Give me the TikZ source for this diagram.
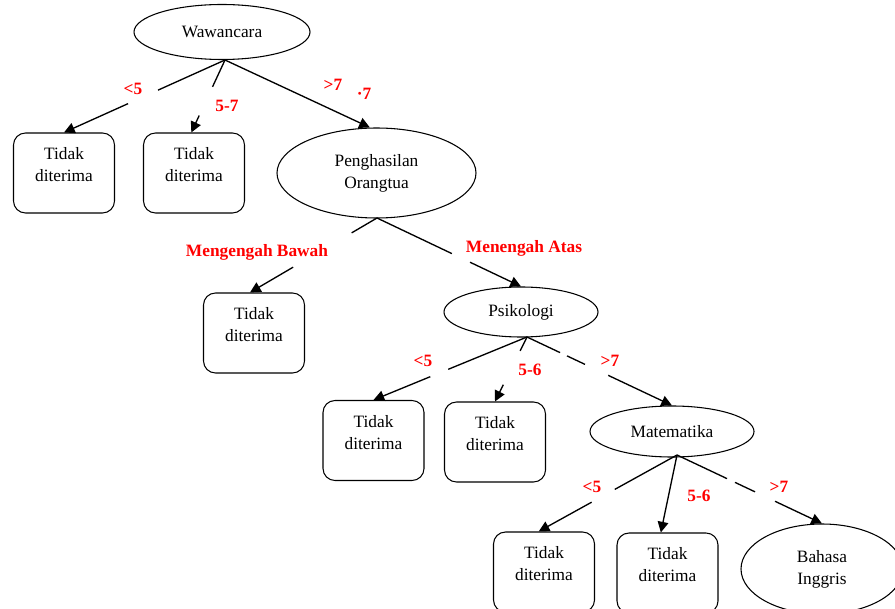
\documentclass[tikz,border=0pt]{standalone}
\usepackage{fontspec}
\setmainfont{Liberation Serif}
\usetikzlibrary{shapes.geometric,arrows.meta,calc}
\begin{document}
\begin{tikzpicture}[x=0.75pt,y=-0.75pt,
  every node/.style={font=\fontsize{13}{16.5}\selectfont},
  ell/.style={draw,ellipse,line width=0.8pt,inner sep=0pt,align=center},
  tbox/.style={draw,rounded corners=9pt,line width=0.8pt,minimum width=75.75pt,minimum height=60pt,inner sep=0pt},
  txt/.style={align=center,inner sep=0pt},
  lbl/.style={text=red,font=\fontsize{13}{15}\selectfont\bfseries,inner sep=0pt},
  edgeline/.style={line width=1pt},
  arr/.style={line width=1pt,-{Triangle[length=8pt,width=8pt]}}]
\useasboundingbox (0,0) rectangle (895,609);
\clip (0,0) rectangle (895,609);

% ellipses
\node[ell,minimum width=132pt,minimum height=41.25pt] (w) at (222,32) {Wawancara};
\node[ell,minimum width=149.25pt,minimum height=67.5pt] (p) at (376.5,173) {Penghasilan\\Orangtua};
\node[ell,minimum width=115.5pt,minimum height=37.5pt] (ps) at (521,312) {Psikologi};
\node[ell,minimum width=123pt,minimum height=38.25pt] (m) at (672,431.5) {Matematika};
\node[ell,minimum width=121.5pt,minimum height=67.5pt] (b) at (822,569) {Bahasa\\Inggris};

% boxes
\node[tbox] (t1) at (64,173) {};
\node[tbox] (t2) at (194,173) {};
\node[tbox] (t3) at (254,333) {};
\node[tbox] (t4) at (373.5,440.5) {};
\node[tbox] (t5) at (495,442) {};
\node[tbox] (t6) at (544,572) {};
\node[tbox] (t7) at (667.5,573) {};
\foreach \t in {t1,t2,t3,t4,t5,t6,t7}{
  \node[txt] (\t txt) at ([yshift=6pt]\t.center) {Tidak\\diterima};
}

% junction points
\coordinate (wj) at (225,60);
\coordinate (pj) at (377,218);
\coordinate (psj) at (527,337);
\coordinate (mj) at (677,455);

% Wawancara edges
\draw[edgeline] (wj) -- ($(wj)!0.416!(t1.north)$);
\draw[arr] ($(wj)!0.602!(t1.north)$) -- (t1.north);
\draw[edgeline] (wj) -- ($(wj)!0.37!([xshift=-2pt]t2.north)$);
\draw[arr] ($(wj)!0.767!([xshift=-2pt]t2.north)$) -- ([xshift=-2pt]t2.north);
\draw[arr] (wj) -- ([xshift=-5pt]p.north);

% Penghasilan edges
\draw[edgeline] (pj) -- ($(pj)!0.2!([xshift=-3pt]t3.north)$);
\draw[arr] ($(pj)!0.66!([xshift=-3pt]t3.north)$) -- ([xshift=-3pt]t3.north);
\draw[edgeline] (pj) -- ($(pj)!0.52!(ps.north)$);
\draw[arr] ($(pj)!0.646!(ps.north)$) -- (ps.north);

% Psikologi edges
\draw[edgeline] (psj) -- ($(psj)!0.513!(t4.north)$);
\draw[arr] ($(psj)!0.63!(t4.north)$) -- (t4.north);
\draw[edgeline] (psj) -- ($(psj)!0.215!(t5.north)$);
\draw[arr] ($(psj)!0.74!(t5.north)$) -- (t5.north);
\draw[edgeline] (psj) -- ($(psj)!0.228!(m.north)$);
\draw[edgeline] ($(psj)!0.276!(m.north)$) -- ($(psj)!0.4!(m.north)$);
\draw[arr] ($(psj)!0.56!(m.north)$) -- (m.north);

% Matematika edges
\draw[edgeline] (mj) -- ($(mj)!0.45!([xshift=-4pt]t6.north)$);
\draw[arr] ($(mj)!0.617!([xshift=-4pt]t6.north)$) -- ([xshift=-4pt]t6.north);
\draw[arr] (mj) -- ([xshift=-5pt]t7.north);
\draw[edgeline] (mj) -- ($(mj)!0.345!(b.north)$);
\draw[edgeline] ($(mj)!0.4!(b.north)$) -- ($(mj)!0.538!(b.north)$);
\draw[arr] ($(mj)!0.676!(b.north)$) -- (b.north);

% labels
\node[lbl] (l1) at (133,89) {<5};
\node[lbl] (l2) at (227,106) {5-7};
\node[lbl] (l3) at (333,85) {>7};
\node[lbl] (l4) at (364,94) {·7};
\node[lbl] (l5) at (257,252) {Mengengah Bawah};
\node[lbl] (l6) at (524,248) {Menengah Atas};
\node[lbl] (l7) at (423,361) {<5};
\node[lbl] (l8) at (530,370) {5-6};
\node[lbl] (l9) at (610,361) {>7};
\node[lbl] (l10) at (592,487) {<5};
\node[lbl] (l11) at (699,496) {5-6};
\node[lbl] (l12) at (779,487) {>7};
\end{tikzpicture}
\end{document}
